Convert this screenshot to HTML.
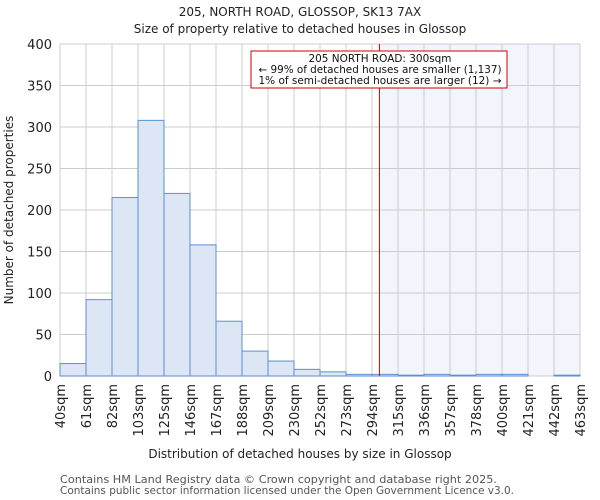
<!DOCTYPE html>
<html><head><meta charset="utf-8"><style>
body{margin:0;background:#fff;}
svg{display:block;font-family:"DejaVu Sans","Liberation Sans",sans-serif;}
</style></head><body>
<svg id="chart" width="600" height="500">
<text x="300" y="16" text-anchor="middle" font-size="12" fill="#222">205, NORTH ROAD, GLOSSOP, SK13 7AX</text>
<text x="300" y="33" text-anchor="middle" font-size="12" fill="#222">Size of property relative to detached houses in Glossop</text>
<g id="plot"></g>
<text x="300" y="458" text-anchor="middle" font-size="12" fill="#222">Distribution of detached houses by size in Glossop</text>
<text transform="translate(13,210) rotate(-90)" text-anchor="middle" font-size="12" fill="#222">Number of detached properties</text>
<text x="60" y="483" font-size="10.5" fill="#555" textLength="437" lengthAdjust="spacingAndGlyphs">Contains HM Land Registry data © Crown copyright and database right 2025.</text>
<text x="60" y="494" font-size="10.5" fill="#555" textLength="454" lengthAdjust="spacingAndGlyphs">Contains public sector information licensed under the Open Government Licence v3.0.</text>
</svg>
<script>
const edges=[40,61,82,103,125,146,167,188,209,230,252,273,294,315,336,357,378,400,421,442,463];
const counts=[15,92,215,308,220,158,66,30,18,8,5,2,2,1,2,1,2,2,0,1];
const yTicks=[0,50,100,150,200,250,300,350,400];
const propertySize=300;
const L=60,R=580,T=44,B=376,yMax=400;
const NS="http://www.w3.org/2000/svg";
const g=document.getElementById('plot');
function xIdx(i){return L+i*(R-L)/(edges.length-1);}
function xVal(v){for(let i=0;i<edges.length-1;i++){if(v<=edges[i+1]){return xIdx(i)+(v-edges[i])/(edges[i+1]-edges[i])*(xIdx(i+1)-xIdx(i));}}return R;}
function y(v){return B-v/yMax*(B-T);}
function mk(tag,attrs){const e=document.createElementNS(NS,tag);for(const k in attrs)e.setAttribute(k,attrs[k]);g.appendChild(e);return e;}
const px=xVal(propertySize);
const sh=mk('rect',{x:px,y:T,width:R-px,height:B-T,fill:'#f2f5fc'});


yTicks.forEach(t=>{
 const l=mk('line',{x1:L,x2:R,y1:y(t),y2:y(t),stroke:'#ccc','stroke-width':1});
 
 
 const tx=mk('text',{x:L-8,y:y(t)+5,'text-anchor':'end','font-size':13,fill:'#222'});
 tx.textContent=t;
 
 
});
edges.forEach((e,i)=>{
 const l=mk('line',{x1:xIdx(i),x2:xIdx(i),y1:T,y2:B,stroke:'#ccc','stroke-width':1});
 
 
 const tx=mk('text',{transform:`translate(${xIdx(i)+5},${B+8}) rotate(-90)`,'text-anchor':'end','font-size':13,fill:'#222'});
 tx.textContent=e+'sqm';
 
 
});
counts.forEach((c,i)=>{
 if(c<=0)return;
 const r=mk('rect',{x:xIdx(i),y:y(c),width:xIdx(i+1)-xIdx(i),height:B-y(c),fill:'#dce6f4',stroke:'#5b8fd6','stroke-width':1});
 
 
});
const rl=mk('line',{x1:px,x2:px,y1:T,y2:B,stroke:'#e00000','stroke-width':1});


const box=mk('rect',{x:251,y:51,width:256,height:37,fill:'#fff',stroke:'#c00','stroke-width':1});


const lines=['205 NORTH ROAD: 300sqm','← 99% of detached houses are smaller (1,137)','1% of semi-detached houses are larger (12) →'];
const lens=[143,243,243];
lines.forEach((s,i)=>{
 const t=mk('text',{x:380,y:62+i*11,'text-anchor':'middle','font-size':10.3,fill:'#111',textLength:lens[i],lengthAdjust:'spacingAndGlyphs'});
 t.textContent=s;
 
 
});
</script>
</body></html>
